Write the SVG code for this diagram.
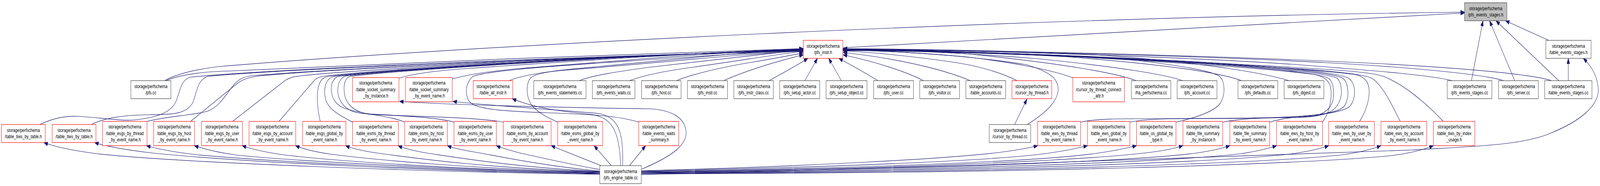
<svg xmlns="http://www.w3.org/2000/svg" width="5551" height="475" viewBox="0 0 5551 475" preserveAspectRatio="none" style="width:100%;height:100%">
<style>
rect{fill:#fff;stroke:#404040;stroke-width:1.2}
.r rect{stroke:#ff0000}
.root rect{fill:#bfbfbf}
text{font-family:"Liberation Sans",Arial,sans-serif;font-size:13px;text-anchor:middle;fill:#000}
#edges path{fill:none;stroke:#191970;stroke-width:1.2;marker-end:url(#ah)}
</style>
<defs>
<marker id="ah" markerUnits="userSpaceOnUse" markerWidth="14" markerHeight="10" viewBox="0 0 14 10" refX="14" refY="5" orient="auto">
<path d="M0,0 L14,5 L0,10 z" fill="#191970" stroke="#191970" stroke-width="1"/>
</marker>
</defs>
<rect x="0" y="0" width="5551" height="475" style="fill:#fff;stroke:none"/>
<g id="edges">
<path d="M138,318 C190,300 230,296 268,297 C350,300 420,310 470,306 C540,300 590,290 610,260 C625,235 625,205 660,197 C1000,172 2400,135 2787,130"/>
<path d="M317,318 C360,302 420,294 520,293 C600,292 650,292 670,260 C685,230 685,205 720,195 C1050,172 2400,136 2787,130"/>
<path d="M505,311 C580,296 660,296 720,284 C770,270 790,230 820,210 C835,200 850,195 880,193 C1200,172 2400,136 2787,129"/>
<path d="M661,310 L820,215 C840,203 860,198 900,194 C1200,172 2400,136 2787,128"/>
<path d="M807,310 L990,205 C1005,198 1020,196 1040,194 C1300,172 2400,136 2787,128"/>
<path d="M968,310 L1085,210 C1095,200 1105,197 1120,195 C1350,172 2400,136 2787,127"/>
<path d="M1111,310 C1105,290 1098,260 1102,233 C1106,210 1115,198 1140,195 C1400,172 2400,136 2787,127"/>
<path d="M1223,312 C1180,295 1140,280 1130,255 C1120,225 1130,200 1160,195 C1420,172 2400,136 2787,126"/>
<path d="M1404,312 C1360,296 1250,292 1190,275 C1150,262 1145,230 1152,212 C1160,198 1170,195 1185,194 C1440,172 2400,136 2787,126"/>
<path d="M1575,312 C1520,300 1400,296 1260,290 C1200,287 1175,260 1172,235 C1170,210 1185,197 1200,194 C1460,172 2400,136 2787,125"/>
<path d="M1746,312 C1690,302 1500,298 1300,293 C1230,291 1200,265 1195,240 C1190,212 1200,198 1215,195 C1470,172 2400,136 2787,125"/>
<path d="M1935,312 C1900,300 1870,290 1846,270 C1826,250 1822,215 1842,198 C1860,188 1900,183 1950,180 C2300,160 2600,135 2787,131"/>
<path d="M2216,312 C2150,296 2050,292 1900,288 C1750,284 1660,280 1632,262 C1612,248 1612,212 1641,195 C1700,180 1900,170 2100,160 C2400,145 2650,132 2787,130"/>
<path d="M575,206 C620,192 680,186 740,183 C1200,165 2300,134 2787,124"/>
<path d="M571,206 C615,188 680,177 760,170 C1600,118 3500,45 5081,31"/>
<path d="M1384,200 C1420,190 1500,182 1600,176 C2000,155 2500,132 2787,125"/>
<path d="M1569,202 C1620,190 1700,182 1800,175 C2200,152 2550,131 2787,125"/>
<path d="M1766,206 C1800,195 1880,185 1960,178 C2300,155 2600,131 2787,126"/>
<path d="M2009,206 C2060,192 2140,183 2250,172 C2500,150 2700,133 2787,127"/>
<path d="M2184,206 C2230,193 2300,182 2400,172 C2550,157 2700,138 2787,131"/>
<path d="M2347,206 C2400,190 2500,172 2600,160 C2700,148 2760,139 2787,135"/>
<path d="M2510,206 C2560,190 2650,165 2787,140"/>
<path d="M2668,206 C2720,185 2770,165 2803,149"/>
<path d="M2792,206 L2836,149"/>
<path d="M2919,206 L2875,149"/>
<path d="M3046,206 C3000,185 2950,165 2910,149"/>
<path d="M3204,206 C3150,185 3050,160 2925,140"/>
<path d="M3366,206 C3300,185 3150,152 2925,134"/>
<path d="M3529,206 C3480,188 3400,168 3300,158 C3150,142 3000,132 2925,130"/>
<path d="M3723,199 C3650,178 3500,158 3350,145 C3150,132 3000,128 2925,128"/>
<path d="M3942,206 C3880,188 3700,163 3350,137 C3150,128 3000,126 2925,127"/>
<path d="M4103,206 C4050,192 3900,172 3600,150 C3300,132 3050,127 2925,127"/>
<path d="M4308,206 C4250,190 4100,168 3700,145 C3300,128 3050,126 2925,126"/>
<path d="M4473,206 C4400,190 4200,160 3800,140 C3400,127 3050,125 2925,126"/>
<path d="M5038,206 C4970,193 4800,182 4500,165 C4000,140 3200,126 2925,125"/>
<path d="M5217,206 C5150,190 4900,172 4600,160 C4100,140 3200,126 2925,125"/>
<path d="M5383,206 C5330,193 5150,177 4800,163 C4200,140 3200,125 2925,124"/>
<path d="M3564,318 C3618,293 3665,265 3671,232 C3675,200 3640,183 3560,165 C3350,140 3050,128 2925,129"/>
<path d="M3520,318 L3563,253"/>
<path d="M4080,312 C4150,300 4215,285 4235,262 C4252,240 4250,210 4232,195 C4200,180 4100,168 3900,150 C3500,133 3100,127 2925,127"/>
<path d="M3749,312 C3800,302 3900,303 4100,303 C4400,303 4650,300 4685,270 C4705,250 4705,215 4680,200 C4640,185 4500,175 4200,160 C3700,138 3200,128 2925,128"/>
<path d="M3920,312 C3970,304 4050,302 4250,302 C4450,302 4640,298 4665,270 C4682,250 4680,215 4660,200 C4620,186 4500,177 4200,162 C3700,139 3200,128 2925,128"/>
<path d="M4243,312 C4300,302 4400,300 4500,300 C4600,298 4630,285 4645,262 C4660,240 4655,213 4640,200 C4600,187 4480,178 4200,163 C3700,140 3200,129 2925,129"/>
<path d="M4405,312 C4440,303 4500,298 4560,296 C4600,290 4618,275 4625,255 C4630,230 4625,210 4610,200 C4580,188 4450,178 4200,164 C3700,140 3200,130 2925,129"/>
<path d="M4588,312 C4610,290 4620,260 4618,232 C4616,210 4600,196 4560,190 C4400,175 4000,155 3600,140 C3300,130 3050,128 2925,129"/>
<path d="M4717,310 C4738,285 4752,255 4750,230 C4748,208 4735,196 4700,190 C4550,176 4200,160 3700,142 C3300,130 3050,128 2925,129"/>
<path d="M4858,310 C4830,270 4800,220 4760,200 C4720,185 4550,177 4200,162 C3700,140 3200,129 2925,128"/>
<path d="M5007,310 C4950,265 4870,215 4800,195 C4740,180 4550,175 4200,160 C3700,139 3200,128 2925,128"/>
<path d="M2924,122 L5081,33"/>
<path d="M5105,206 L5145,53"/>
<path d="M5255,206 L5168,53"/>
<path d="M5408,206 L5190,53"/>
<path d="M5373,103 L5223,53"/>
<path d="M5441,206 L5441,149"/>
<path d="M2225,446 C3000,430 4500,400 4900,383 C5100,374 5280,372 5380,340 C5480,310 5550,270 5545,225 C5540,190 5520,168 5493,149"/>
<path d="M2081,445 C1500,440 600,415 330,392 C250,384 190,375 152,364"/>
<path d="M2081,444 C1500,438 800,412 520,390 C430,382 370,374 328,364"/>
<path d="M2081,443 C1500,436 900,410 680,395 C600,388 550,381 508,372"/>
<path d="M2081,442 C1600,435 1000,410 820,396 C750,389 710,381 674,372"/>
<path d="M2081,441 C1600,434 1150,410 990,396 C920,389 875,381 840,372"/>
<path d="M2081,440 C1650,432 1300,408 1150,394 C1090,388 1055,381 1025,372"/>
<path d="M2081,439 C1700,430 1450,405 1320,392 C1260,386 1225,380 1199,372"/>
<path d="M2081,438 C1800,428 1600,404 1490,392 C1440,386 1405,380 1381,372"/>
<path d="M2081,437 C1900,425 1750,402 1660,390 C1610,384 1575,379 1552,372"/>
<path d="M2081,433 C1980,420 1860,400 1800,390 C1770,384 1740,378 1722,372"/>
<path d="M2085,423 L1912,372"/>
<path d="M2121,423 L2061,372"/>
<path d="M2184,423 L2240,372"/>
<path d="M2153,423 C2150,330 2120,300 2050,292 C1950,285 1850,275 1777,252"/>
<path d="M2160,423 C2165,330 2140,300 2080,290 C1900,278 1700,270 1571,259"/>
<path d="M2226,432 C2330,400 2385,370 2380,335 C2375,300 2330,282 2260,278 C2000,275 1600,270 1386,259"/>
<path d="M2225,436 C2800,425 3300,405 3480,388 C3530,383 3570,378 3600,372"/>
<path d="M2225,437 C2900,427 3450,410 3630,392 C3690,386 3735,379 3773,372"/>
<path d="M2225,438 C3000,430 3600,412 3800,392 C3860,386 3905,379 3943,372"/>
<path d="M2225,439 C3100,432 3750,410 3980,390 C4040,385 4075,379 4104,372"/>
<path d="M2225,440 C3200,434 3900,412 4140,392 C4200,386 4240,379 4267,372"/>
<path d="M2225,441 C3300,436 4050,413 4300,393 C4360,387 4400,379 4429,372"/>
<path d="M2225,442 C3400,438 4200,415 4470,394 C4530,388 4580,380 4610,372"/>
<path d="M2225,443 C3500,440 4350,418 4650,396 C4710,390 4760,381 4791,372"/>
<path d="M2225,444 C3600,442 4500,420 4820,398 C4890,392 4940,382 4973,372"/>
</g>
<g id="n_pfs_events_stages_h" class="root"><rect x="5081" y="7" width="147" height="46"/><text x="5154.5" y="25.7">storage/perfschema</text><text x="5154.5" y="42.3">/pfs_events_stages.h</text></g>
<g id="n_pfs_instr_h" class="r"><rect x="2787" y="103" width="137" height="46"/><text x="2855.5" y="121.7">storage/perfschema</text><text x="2855.5" y="138.3">/pfs_instr.h</text></g>
<g id="n_table_events_stages_h"><rect x="5363" y="103" width="157" height="46"/><text x="5441.5" y="121.7">storage/perfschema</text><text x="5441.5" y="138.3">/table_events_stages.h</text></g>
<g id="n_pfs_cc"><rect x="454" y="206" width="139" height="46"/><text x="523.5" y="224.7">storage/perfschema</text><text x="523.5" y="241.3">/pfs.cc</text></g>
<g id="n_table_socket_summary_by_instance_h" class="r"><rect x="1223" y="198" width="161" height="62"/><text x="1303.5" y="216.5">storage/perfschema</text><text x="1303.5" y="233">/table_socket_summary</text><text x="1303.5" y="249.5">_by_instance.h</text></g>
<g id="n_table_socket_summary_by_event_name_h" class="r"><rect x="1407" y="198" width="162" height="62"/><text x="1488" y="216.5">storage/perfschema</text><text x="1488" y="233">/table_socket_summary</text><text x="1488" y="249.5">_by_event_name.h</text></g>
<g id="n_table_all_instr_h" class="r"><rect x="1642" y="206" width="137" height="46"/><text x="1710.5" y="224.7">storage/perfschema</text><text x="1710.5" y="241.3">/table_all_instr.h</text></g>
<g id="n_pfs_events_statements_cc"><rect x="1852" y="206" width="181" height="46"/><text x="1942.5" y="224.7">storage/perfschema</text><text x="1942.5" y="241.3">/pfs_events_statements.cc</text></g>
<g id="n_pfs_events_waits_cc"><rect x="2055" y="206" width="148" height="46"/><text x="2129" y="224.7">storage/perfschema</text><text x="2129" y="241.3">/pfs_events_waits.cc</text></g>
<g id="n_pfs_host_cc"><rect x="2226" y="206" width="137" height="46"/><text x="2294.5" y="224.7">storage/perfschema</text><text x="2294.5" y="241.3">/pfs_host.cc</text></g>
<g id="n_pfs_instr_cc"><rect x="2385" y="206" width="139" height="46"/><text x="2454.5" y="224.7">storage/perfschema</text><text x="2454.5" y="241.3">/pfs_instr.cc</text></g>
<g id="n_pfs_instr_class_cc"><rect x="2546" y="206" width="137" height="46"/><text x="2614.5" y="224.7">storage/perfschema</text><text x="2614.5" y="241.3">/pfs_instr_class.cc</text></g>
<g id="n_pfs_setup_actor_cc"><rect x="2705" y="206" width="139" height="46"/><text x="2774.5" y="224.7">storage/perfschema</text><text x="2774.5" y="241.3">/pfs_setup_actor.cc</text></g>
<g id="n_pfs_setup_object_cc"><rect x="2866" y="206" width="142" height="46"/><text x="2937" y="224.7">storage/perfschema</text><text x="2937" y="241.3">/pfs_setup_object.cc</text></g>
<g id="n_pfs_user_cc"><rect x="3031" y="206" width="138" height="46"/><text x="3100" y="224.7">storage/perfschema</text><text x="3100" y="241.3">/pfs_user.cc</text></g>
<g id="n_pfs_visitor_cc"><rect x="3191" y="206" width="138" height="46"/><text x="3260" y="224.7">storage/perfschema</text><text x="3260" y="241.3">/pfs_visitor.cc</text></g>
<g id="n_table_accounts_cc"><rect x="3351" y="206" width="138" height="46"/><text x="3420" y="224.7">storage/perfschema</text><text x="3420" y="241.3">/table_accounts.cc</text></g>
<g id="n_cursor_by_thread_h" class="r"><rect x="3511" y="206" width="138" height="46"/><text x="3580" y="224.7">storage/perfschema</text><text x="3580" y="241.3">/cursor_by_thread.h</text></g>
<g id="n_cursor_by_thread_connect_attr_h" class="r"><rect x="3722" y="198" width="179" height="62"/><text x="3811.5" y="216.5">storage/perfschema</text><text x="3811.5" y="233">/cursor_by_thread_connect</text><text x="3811.5" y="249.5">_attr.h</text></g>
<g id="n_ha_perfschema_cc"><rect x="3925" y="206" width="137" height="46"/><text x="3993.5" y="224.7">storage/perfschema</text><text x="3993.5" y="241.3">/ha_perfschema.cc</text></g>
<g id="n_pfs_account_cc"><rect x="4084" y="206" width="138" height="46"/><text x="4153" y="224.7">storage/perfschema</text><text x="4153" y="241.3">/pfs_account.cc</text></g>
<g id="n_pfs_defaults_cc"><rect x="4295" y="206" width="138" height="46"/><text x="4364" y="224.7">storage/perfschema</text><text x="4364" y="241.3">/pfs_defaults.cc</text></g>
<g id="n_pfs_digest_cc"><rect x="4455" y="206" width="138" height="46"/><text x="4524" y="224.7">storage/perfschema</text><text x="4524" y="241.3">/pfs_digest.cc</text></g>
<g id="n_pfs_events_stages_cc"><rect x="5021" y="206" width="155" height="46"/><text x="5098.5" y="224.7">storage/perfschema</text><text x="5098.5" y="241.3">/pfs_events_stages.cc</text></g>
<g id="n_pfs_server_cc"><rect x="5199" y="206" width="138" height="46"/><text x="5268" y="224.7">storage/perfschema</text><text x="5268" y="241.3">/pfs_server.cc</text></g>
<g id="n_table_events_stages_cc"><rect x="5359" y="206" width="164" height="46"/><text x="5441" y="224.7">storage/perfschema</text><text x="5441" y="241.3">/table_events_stages.cc</text></g>
<g id="n_table_tiws_by_table_h" class="r"><rect x="5" y="318" width="152" height="46"/><text x="81" y="336.7">storage/perfschema</text><text x="81" y="353.3">/table_tiws_by_table.h</text></g>
<g id="n_table_tlws_by_table_h" class="r"><rect x="181" y="318" width="152" height="46"/><text x="257" y="336.7">storage/perfschema</text><text x="257" y="353.3">/table_tlws_by_table.h</text></g>
<g id="n_table_esgs_by_thread" class="r"><rect x="356" y="310" width="154" height="62"/><text x="433" y="328.5">storage/perfschema</text><text x="433" y="345">/table_esgs_by_thread</text><text x="433" y="361.5">_by_event_name.h</text></g>
<g id="n_table_esgs_by_host" class="r"><rect x="533" y="310" width="142" height="62"/><text x="604" y="328.5">storage/perfschema</text><text x="604" y="345">/table_esgs_by_host</text><text x="604" y="361.5">_by_event_name.h</text></g>
<g id="n_table_esgs_by_user" class="r"><rect x="699" y="310" width="142" height="62"/><text x="770" y="328.5">storage/perfschema</text><text x="770" y="345">/table_esgs_by_user</text><text x="770" y="361.5">_by_event_name.h</text></g>
<g id="n_table_esgs_by_account" class="r"><rect x="864" y="310" width="162" height="62"/><text x="945" y="328.5">storage/perfschema</text><text x="945" y="345">/table_esgs_by_account</text><text x="945" y="361.5">_by_event_name.h</text></g>
<g id="n_table_esgs_global" class="r"><rect x="1050" y="310" width="150" height="62"/><text x="1125" y="328.5">storage/perfschema</text><text x="1125" y="345">/table_esgs_global_by</text><text x="1125" y="361.5">_event_name.h</text></g>
<g id="n_table_esms_by_thread" class="r"><rect x="1223" y="310" width="159" height="62"/><text x="1302.5" y="328.5">storage/perfschema</text><text x="1302.5" y="345">/table_esms_by_thread</text><text x="1302.5" y="361.5">_by_event_name.h</text></g>
<g id="n_table_esms_by_host" class="r"><rect x="1404" y="310" width="148" height="62"/><text x="1478" y="328.5">storage/perfschema</text><text x="1478" y="345">/table_esms_by_host</text><text x="1478" y="361.5">_by_event_name.h</text></g>
<g id="n_table_esms_by_user" class="r"><rect x="1575" y="310" width="147" height="62"/><text x="1648.5" y="328.5">storage/perfschema</text><text x="1648.5" y="345">/table_esms_by_user</text><text x="1648.5" y="361.5">_by_event_name.h</text></g>
<g id="n_table_esms_by_account" class="r"><rect x="1746" y="310" width="166" height="62"/><text x="1829" y="328.5">storage/perfschema</text><text x="1829" y="345">/table_esms_by_account</text><text x="1829" y="361.5">_by_event_name.h</text></g>
<g id="n_table_esms_global" class="r"><rect x="1935" y="310" width="156" height="62"/><text x="2013" y="328.5">storage/perfschema</text><text x="2013" y="345">/table_esms_global_by</text><text x="2013" y="361.5">_event_name.h</text></g>
<g id="n_table_events_waits_summary_h" class="r"><rect x="2216" y="310" width="139" height="62"/><text x="2285.5" y="328.5">storage/perfschema</text><text x="2285.5" y="345">/table_events_waits</text><text x="2285.5" y="361.5">_summary.h</text></g>
<g id="n_cursor_by_thread_cc"><rect x="3432" y="318" width="144" height="46"/><text x="3504" y="336.7">storage/perfschema</text><text x="3504" y="353.3">/cursor_by_thread.cc</text></g>
<g id="n_table_ews_by_thread" class="r"><rect x="3600" y="310" width="149" height="62"/><text x="3674.5" y="328.5">storage/perfschema</text><text x="3674.5" y="345">/table_ews_by_thread</text><text x="3674.5" y="361.5">_by_event_name.h</text></g>
<g id="n_table_ews_global" class="r"><rect x="3773" y="310" width="147" height="62"/><text x="3846.5" y="328.5">storage/perfschema</text><text x="3846.5" y="345">/table_ews_global_by</text><text x="3846.5" y="361.5">_event_name.h</text></g>
<g id="n_table_os_global_by_type_h" class="r"><rect x="3943" y="310" width="137" height="62"/><text x="4011.5" y="328.5">storage/perfschema</text><text x="4011.5" y="345">/table_os_global_by</text><text x="4011.5" y="361.5">_type.h</text></g>
<g id="n_table_file_summary_by_instance_h" class="r"><rect x="4104" y="310" width="138" height="62"/><text x="4173" y="328.5">storage/perfschema</text><text x="4173" y="345">/table_file_summary</text><text x="4173" y="361.5">_by_instance.h</text></g>
<g id="n_table_file_summary_by_event_name_h" class="r"><rect x="4267" y="310" width="138" height="62"/><text x="4336" y="328.5">storage/perfschema</text><text x="4336" y="345">/table_file_summary</text><text x="4336" y="361.5">_by_event_name.h</text></g>
<g id="n_table_ews_by_host" class="r"><rect x="4429" y="310" width="159" height="62"/><text x="4508.5" y="328.5">storage/perfschema</text><text x="4508.5" y="345">/table_ews_by_host_by</text><text x="4508.5" y="361.5">_event_name.h</text></g>
<g id="n_table_ews_by_user" class="r"><rect x="4610" y="310" width="158" height="62"/><text x="4689" y="328.5">storage/perfschema</text><text x="4689" y="345">/table_ews_by_user_by</text><text x="4689" y="361.5">_event_name.h</text></g>
<g id="n_table_ews_by_account" class="r"><rect x="4791" y="310" width="159" height="62"/><text x="4870.5" y="328.5">storage/perfschema</text><text x="4870.5" y="345">/table_ews_by_account</text><text x="4870.5" y="361.5">_by_event_name.h</text></g>
<g id="n_table_tiws_by_index_usage_h" class="r"><rect x="4973" y="310" width="144" height="62"/><text x="5045" y="328.5">storage/perfschema</text><text x="5045" y="345">/table_tiws_by_index</text><text x="5045" y="361.5">_usage.h</text></g>
<g id="n_pfs_engine_table_cc"><rect x="2081" y="423" width="144" height="46"/><text x="2153" y="441.7">storage/perfschema</text><text x="2153" y="458.3">/pfs_engine_table.cc</text></g>
</svg>
